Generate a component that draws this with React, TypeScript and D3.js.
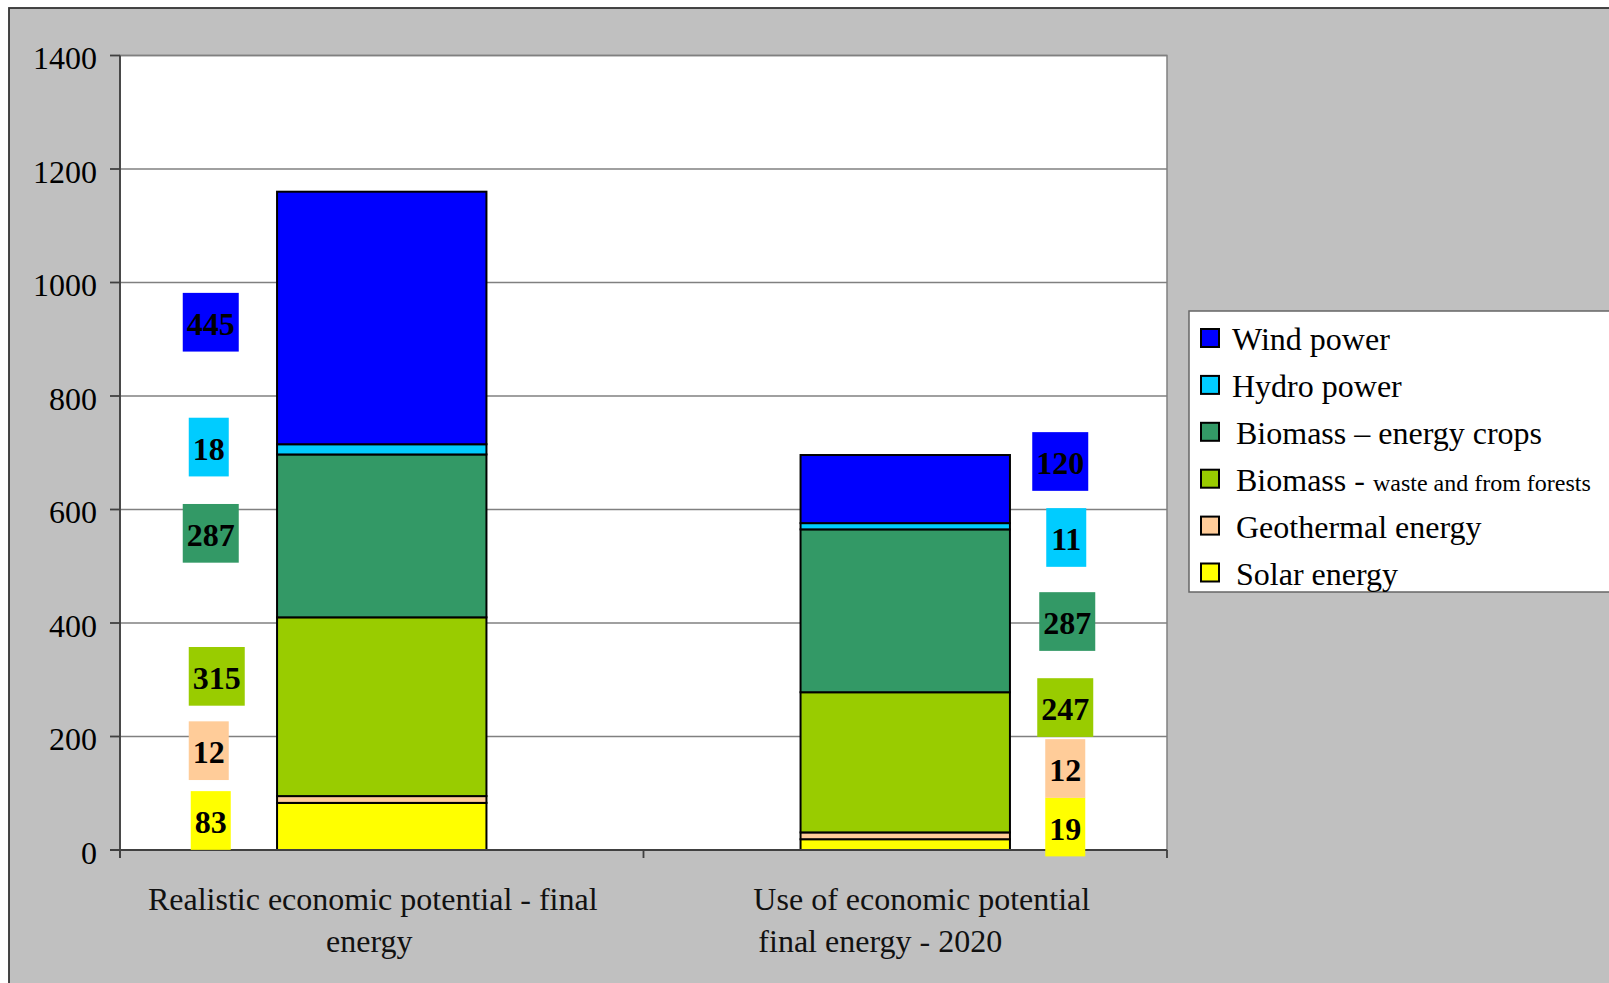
import React from "react";
import * as d3 from "d3";

// Stacked renewable-energy potential (final energy), two scenarios.
const categories = ["Realistic economic potential - final energy", "Use of economic potential final energy - 2020"];
const categoryLines = [
  ["Realistic economic potential - final", "energy"],
  ["Use of economic potential", "final energy - 2020"],
];
const seriesNames = [
  "Solar energy",
  "Geothermal energy",
  "Biomass - waste and from forests",
  "Biomass – energy crops",
  "Hydro power",
  "Wind power",
];
const seriesColors = ["#FFFF00", "#FFCC99", "#99CC00", "#339966", "#00CCFF", "#0000FF"];
const solar = [83, 19];
const geothermal = [12, 12];
const biomassWaste = [315, 247];
const biomassCrops = [287, 287];
const hydro = [18, 11];
const wind = [445, 120];
const yTicks = [0, 200, 400, 600, 800, 1000, 1200, 1400];

// Hand-placed data label anchors: [x offset from bar centre in px, y in axis units], bottom to top.
const labelLayout = [
  [[-171, 52], [-173, 175], [-165, 306], [-171, 558], [-173, 710], [-171, 930]],
  [[160, 40.5], [160, 143.6], [160, 251], [162, 402.6], [161, 550.7], [155, 684.6]],
];
// Category label line centre offsets from band centre in px.
const categoryLineOffsets = [
  [-9, -12.5],
  [16.5, -25],
];

const W = 1609;
const H = 983;
const plot = { left: 120, right: 1167, top: 55.5, bottom: 850 };
const FONT = "'Liberation Serif', 'Times New Roman', serif";

export default function App() {
  const seriesValues = [solar, geothermal, biomassWaste, biomassCrops, hydro, wind];
  const rows = categories.map((c, i) => {
    const r: Record<string, number | string> = { category: c };
    seriesNames.forEach((s, k) => (r[s] = seriesValues[k][i]));
    return r;
  });
  const stacked = d3.stack<any>().keys(seriesNames)(rows as any);

  const x = d3.scaleBand<string>().domain(categories).range([plot.left, plot.right]).paddingInner(0).paddingOuter(0);
  const y = d3.scaleLinear().domain([0, 1400]).range([plot.bottom, plot.top]);
  const barW = x.bandwidth() * 0.4;
  const center = (c: string) => (x(c) as number) + x.bandwidth() / 2;

  const legendOrder = seriesNames.map((_, i) => i).reverse();

  return (
    <svg
      width={W}
      height={H}
      style={{ position: "absolute", left: 0, top: 0, display: "block" }}
      fontFamily={FONT}
    >
      <rect x={0} y={0} width={W} height={H} fill="#FFFFFF" />
      <rect x={9} y={8} width={W + 20} height={H + 20} fill="#C0C0C0" stroke="#333333" strokeWidth={1.8} />

      {/* plot area */}
      <rect x={plot.left} y={plot.top} width={plot.right - plot.left} height={plot.bottom - plot.top} fill="#FFFFFF" stroke="#808080" strokeWidth={1.5} />

      {/* gridlines */}
      {yTicks.filter((t) => t > 0).map((t) => (
        <line key={"g" + t} x1={plot.left} x2={plot.right} y1={y(t)} y2={y(t)} stroke="#808080" strokeWidth={1.5} />
      ))}

      {/* bars */}
      {stacked.map((layer, k) =>
        layer.map((d, i) => {
          const c = categories[i];
          return (
            <rect
              key={`b${k}-${i}`}
              x={center(c) - barW / 2}
              y={y(d[1])}
              width={barW}
              height={y(d[0]) - y(d[1])}
              fill={seriesColors[k]}
              stroke="#000000"
              strokeWidth={2}
            />
          );
        })
      )}

      {/* axes */}
      <line x1={plot.left} x2={plot.left} y1={plot.top} y2={plot.bottom + 8} stroke="#404040" strokeWidth={1.8} />
      <line x1={plot.left - 10} x2={plot.right} y1={plot.bottom} y2={plot.bottom} stroke="#404040" strokeWidth={1.8} />
      {yTicks.map((t) => (
        <g key={"t" + t}>
          <line x1={plot.left - 10} x2={plot.left} y1={y(t)} y2={y(t)} stroke="#404040" strokeWidth={1.8} />
          <text x={97} y={y(t) + 13.5} textAnchor="end" fontSize={32} fill="#000">
            {t}
          </text>
        </g>
      ))}
      {[plot.left, plot.left + x.bandwidth(), plot.right].map((tx, i) => (
        <line key={"xt" + i} x1={tx} x2={tx} y1={plot.bottom} y2={plot.bottom + 8} stroke="#404040" strokeWidth={1.8} />
      ))}

      {/* category labels */}
      {categories.map((c, i) =>
        categoryLines[i].map((line, j) => (
          <text
            key={`c${i}-${j}`}
            x={center(c) + categoryLineOffsets[i][j]}
            y={910 + j * 42}
            textAnchor="middle"
            fontSize={32}
            fill="#111"
          >
            {line}
          </text>
        ))
      )}

      {/* data labels */}
      {categories.map((c, i) =>
        seriesNames.map((s, k) => {
          const v = seriesValues[k][i];
          const txt = String(v);
          const [dx, anchor] = labelLayout[i][k];
          const cx = center(c) + dx;
          const cy = y(anchor);
          const bw = txt.length * 16 + 8;
          const bh = 58.7;
          return (
            <g key={`l${i}-${k}`}>
              <rect x={cx - bw / 2} y={cy - bh / 2} width={bw} height={bh} fill={seriesColors[k]} />
              <text x={cx} y={cy + 12.5} textAnchor="middle" fontSize={32} fontWeight="bold" fill="#000">
                {txt}
              </text>
            </g>
          );
        })
      )}

      {/* legend */}
      <rect x={1189} y={311} width={500} height={281} fill="#FFFFFF" stroke="#666666" strokeWidth={1.5} />
      {legendOrder.map((k, row) => {
        const base = 350 + row * 46.9;
        const indent = row < 2 ? 0 : 4;
        const name = seriesNames[k];
        const isWaste = name.startsWith("Biomass - ");
        return (
          <g key={"lg" + k}>
            <rect x={1201} y={base - 21} width={18} height={18} fill={seriesColors[k]} stroke="#000" strokeWidth={2} />
            <text x={1232 + indent} y={base} fontSize={32} fill="#000">
              {isWaste ? (
                <>
                  <tspan>Biomass - </tspan>
                  <tspan fontSize={24}>{name.slice("Biomass - ".length)}</tspan>
                </>
              ) : (
                name
              )}
            </text>
          </g>
        );
      })}
    </svg>
  );
}
